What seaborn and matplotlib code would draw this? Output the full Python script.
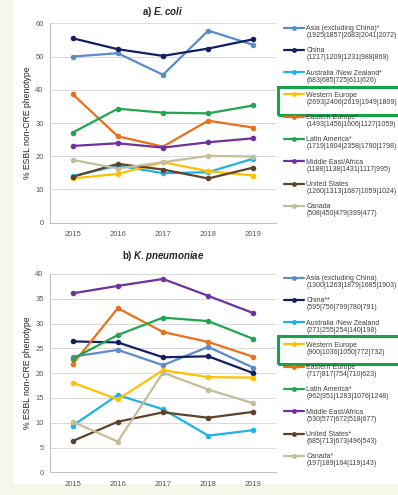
import numpy as np
import matplotlib
matplotlib.use("Agg")
import matplotlib.pyplot as plt
from matplotlib.lines import Line2D
from matplotlib.patches import Rectangle
import seaborn as sns
import pandas as pd

YEARS = [2015, 2016, 2017, 2018, 2019]
REGIONS = ["Asia (excluding China)", "China", "Australia /New Zealand",
           "Western Europe", "Eastern Europe", "Latin America",
           "Middle East/Africa", "United States", "Canada"]
COLORS = ["#5b8bc9", "#102060", "#1eb1ea", "#ffc000", "#e8711c",
          "#1fa64f", "#7030a0", "#5e4229", "#c5bd98"]

# a) E. coli, % ESBL non-CRE phenotype
ECOLI = {
    "Asia (excluding China)": [50.0, 51.0, 44.5, 57.8, 53.5],
    "China": [55.5, 52.2, 50.2, 52.4, 55.2],
    "Australia /New Zealand": [14.0, 17.2, 14.9, 15.2, 19.3],
    "Western Europe": [13.3, 14.7, 18.2, 15.5, 14.2],
    "Eastern Europe": [38.7, 26.0, 22.9, 30.7, 28.6],
    "Latin America": [27.1, 34.3, 33.1, 32.9, 35.3],
    "Middle East/Africa": [23.1, 23.9, 22.6, 24.2, 25.4],
    "United States": [13.8, 17.7, 16.0, 13.3, 16.6],
    "Canada": [18.9, 16.3, 18.2, 20.1, 19.9],
}
ECOLI_LABELS = ["Asia (excluding China)*", "China", "Australia /New Zealand*",
                "Western Europe", "Eastern Europe*", "Latin America*",
                "Middle East/Africa", "United States", "Canada"]
ECOLI_N = ["(1925|1857|2683|2041|2072)", "(1217|1209|1231|988|869)",
           "(683|685|725|611|626)", "(2693|2406|2619|1949|1809)",
           "(1493|1456|1606|1127|1059)", "(1719|1904|2358|1790|1798)",
           "(1188|1138|1431|1117|995)", "(1260|1313|1687|1059|1024)",
           "(508|450|479|399|477)"]

# b) K. pneumoniae
KPNEU = {
    "Asia (excluding China)": [23.3, 24.7, 21.6, 25.3, 21.1],
    "China": [26.4, 26.2, 23.2, 23.4, 20.0],
    "Australia /New Zealand": [9.4, 15.6, 12.7, 7.4, 8.5],
    "Western Europe": [18.1, 14.7, 20.6, 19.2, 19.1],
    "Eastern Europe": [21.8, 33.1, 28.3, 26.3, 23.3],
    "Latin America": [22.9, 27.7, 31.2, 30.5, 26.9],
    "Middle East/Africa": [36.1, 37.6, 39.0, 35.6, 32.1],
    "United States": [6.3, 10.2, 12.1, 11.0, 12.2],
    "Canada": [10.2, 6.2, 20.1, 16.7, 13.9],
}
KPNEU_LABELS = ["Asia (excluding China)", "China**", "Australia /New Zealand",
                "Western Europe", "Eastern Europe", "Latin America*",
                "Middle East/Africa", "United States*", "Canada*"]
KPNEU_N = ["(1300|1263|1879|1685|1903)", "(595|756|799|780|791)",
           "(271|255|254|140|198)", "(900|1036|1050|772|732)",
           "(717|817|754|710|623)", "(962|951|1283|1076|1248)",
           "(530|577|672|518|677)", "(685|713|673|496|543)",
           "(197|189|164|119|143)"]

W, H = 398, 495
TXT = "#404040"
LEG_FS = 5.0


def tidy(values):
    rows = []
    for region in REGIONS:
        for year, v in zip(YEARS, values[region]):
            rows.append([region, year, v])
    return pd.DataFrame(rows, columns=["region", "year", "pct"])


def panel(fig, rect, values, ymax, ystep, title, title_pad, labels, leg_top, box):
    ax = fig.add_axes(rect)
    ax.set_facecolor("none")
    df = tidy(values)
    palette = dict(zip(REGIONS, COLORS))
    sns.lineplot(data=df, x="year", y="pct", hue="region", hue_order=REGIONS,
                 palette=palette, marker="o", markersize=4, markeredgewidth=0,
                 linewidth=1.6, legend=False, ax=ax)
    ax.set_xlim(2014.5, 2019.5)
    ax.set_ylim(0, ymax)
    ax.set_yticks(np.arange(0, ymax + 1, ystep))
    ax.set_xticks(YEARS)
    ax.set_xticks(np.arange(2014.5, 2020, 1.0), minor=True)
    ax.tick_params(axis="x", which="major", length=0, pad=6,
                   labelsize=5.5, labelcolor="#595959")
    ax.tick_params(axis="x", which="minor", length=3, color="#bfbfbf")
    ax.tick_params(axis="y", length=2.5, color="#bfbfbf", labelsize=5.5,
                   labelcolor="#595959", pad=2)
    ax.grid(axis="y", color="#d9d9d9", linewidth=0.7)
    ax.set_axisbelow(True)
    for s in ["top", "right"]:
        ax.spines[s].set_visible(False)
    for s in ["left", "bottom"]:
        ax.spines[s].set_color("#bfbfbf")
        ax.spines[s].set_linewidth(0.7)
    ax.set_xlabel("")
    ax.set_ylabel("% ESBL non-CRE phenotype", fontsize=6.2, color="#262626",
                  labelpad=2.5)
    ax.set_title(title, fontsize=7, color="#262626", pad=title_pad,
                 fontweight="bold")

    handles = [Line2D([], [], color=c, marker="o", markersize=3.5,
                      markeredgewidth=0, linewidth=1.6) for c in COLORS]
    leg = fig.legend(handles, labels, loc="upper left",
                     bbox_to_anchor=(284 / W, 1 - leg_top / H),
                     frameon=False, fontsize=LEG_FS, handlelength=2.9,
                     handletextpad=0.3, labelspacing=2.2, borderpad=0,
                     borderaxespad=0, labelcolor=TXT)
    x0, y0, x1, y1 = box
    fig.add_artist(Rectangle((x0 / W, 1 - y1 / H), (x1 - x0) / W, (y1 - y0) / H,
                             transform=fig.transFigure, fill=False,
                             edgecolor="#16a34a", linewidth=2.2))
    return ax, leg


def main():
    sns.set_style("white")
    plt.rcParams["font.family"] = ["Liberation Sans", "DejaVu Sans"]
    plt.rcParams["mathtext.fontset"] = "custom"
    plt.rcParams["mathtext.it"] = "Liberation Sans:italic:bold"
    plt.rcParams["mathtext.rm"] = "Liberation Sans:bold"

    fig = plt.figure(figsize=(W / 100, H / 100), dpi=100)
    fig.patch.set_facecolor("#f5f7ea")
    fig.add_artist(Rectangle((14 / W, 11 / H), 1, 1, transform=fig.transFigure,
                             facecolor="white", edgecolor="none", zorder=-10))

    ax_a, leg_a = panel(fig, [50 / W, 1 - 222.7 / H, 226 / W, 199.4 / H],
                        ECOLI, 60, 10, r"a) $E. coli$", 6, ECOLI_LABELS, 25,
                        (278, 87, 400, 115))
    ax_b, leg_b = panel(fig, [50 / W, 1 - 472.3 / H, 226 / W, 198.3 / H],
                        KPNEU, 40, 5, r"b) $K. pneumoniae$", 11, KPNEU_LABELS,
                        275, (278, 336, 400, 364))

    # lay out the legends first, then hang the sample sizes under each name
    fig.canvas.draw()
    for ax, leg, counts in [(ax_a, leg_a, ECOLI_N), (ax_b, leg_b, KPNEU_N)]:
        for txt, n in zip(leg.get_texts(), counts):
            ax.annotate(n, xy=(0, 0), xycoords=txt, xytext=(0, 0),
                        textcoords="offset points", ha="left", va="top",
                        fontsize=LEG_FS, color=TXT, annotation_clip=False)

    fig.savefig("out.png", dpi=100, facecolor=fig.get_facecolor())
    plt.close()


if __name__ == "__main__":
    main()
